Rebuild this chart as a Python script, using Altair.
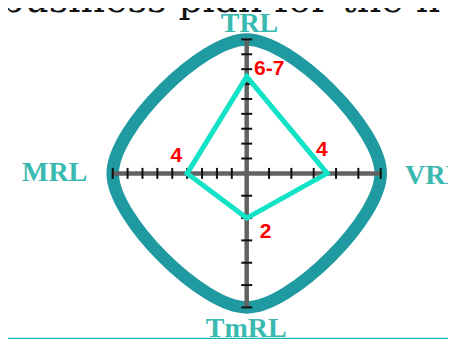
import altair as alt
import numpy as np
import pandas as pd

# ---- data ----
axis_names = ["TRL", "VRL", "TmRL", "MRL"]
max_levels = [9, 6, 6, 9]
levels = [6.5, 3.6, 2, 4]
level_labels = ["6-7", "4", "2", "4"]
header_text = "business plan for the n"

# ---- layout ----
angles = {"TRL": 90, "VRL": 0, "TmRL": 270, "MRL": 180}
L = 134.0
cx, cy = 238.7, 165.4
W, H = 440, 331
xdom = [-cx / L, (W - cx) / L]
ydom = [-(H - cy) / L, cy / L]


def pos(name, r):
    a = np.deg2rad(angles[name])
    return float(r * np.cos(a)), float(r * np.sin(a))


poly_rows, end_rows, tick_rows = [], [], []
for i, (n, mx, lv, lab) in enumerate(zip(axis_names, max_levels, levels, level_labels)):
    x, y = pos(n, lv / mx)
    poly_rows.append(dict(axis=n, x=x, y=y, i=i, label=lab))
    ex, ey = pos(n, 1.0)
    end_rows.append(dict(axis=n, x=ex, y=ey, i=i))
    for k in range(1, mx + 1):
        tx, ty = pos(n, k / mx)
        tick_rows.append(dict(axis=n, x=tx, y=ty))

poly = pd.DataFrame(poly_rows)
ends = pd.DataFrame(end_rows)
ticks = pd.DataFrame(tick_rows)
axes_lines = pd.DataFrame([
    dict(x=pos("MRL", 1)[0], x2=pos("VRL", 1)[0], y=0.0, y2=0.0),
    dict(x=0.0, x2=0.0, y=pos("TmRL", 1)[1], y2=pos("TRL", 1)[1]),
])
header = pd.DataFrame({"t": [header_text]})

xs = alt.Scale(domain=xdom, nice=False, zero=False)
ys = alt.Scale(domain=ydom, nice=False, zero=False)
X = alt.X("x:Q", scale=xs, axis=None)
Y = alt.Y("y:Q", scale=ys, axis=None)

outline = alt.Chart(ends).mark_line(
    interpolate="cardinal-closed", stroke="#1f9aa0", strokeWidth=12.5
).encode(x=X, y=Y, order=alt.Order("i:Q"))

axis_rules = alt.Chart(axes_lines).mark_rule(stroke="#626262", strokeWidth=4.5).encode(
    x=X, y=Y, x2="x2:Q", y2="y2:Q"
)

ticks_v = alt.Chart(ticks).mark_tick(
    orient="vertical", size=11, thickness=2, color="#111111", opacity=1
).encode(x=X, y=Y).transform_filter(
    alt.FieldOneOfPredicate(field="axis", oneOf=["MRL", "VRL"])
)
ticks_h = alt.Chart(ticks).mark_tick(
    orient="horizontal", size=11, thickness=2, color="#111111", opacity=1
).encode(x=X, y=Y).transform_filter(
    alt.FieldOneOfPredicate(field="axis", oneOf=["TRL", "TmRL"])
)

polygon = alt.Chart(poly).mark_line(
    interpolate="linear-closed", stroke="#12e2c6", strokeWidth=5, strokeJoin="miter"
).encode(x=X, y=Y, order=alt.Order("i:Q"))

# value labels
lab_off = {"TRL": (7.3, -2, "left"), "MRL": (-10.8, -11.1, "center"),
           "VRL": (-5.2, -17.4, "center"), "TmRL": (18.8, 20.2, "center")}
value_labels = []
for n in axis_names:
    dx, dy, al = lab_off[n]
    value_labels.append(
        alt.Chart(poly).mark_text(
            font="Liberation Sans", fontWeight="bold", fontSize=21, color="#ff0000",
            align=al, baseline="alphabetic", dx=dx, dy=dy
        ).encode(x=X, y=Y, text="label:N").transform_filter(alt.datum.axis == n)
    )

# axis titles
title_off = {"TRL": (2.8, -7.7, "center"), "TmRL": (-0.5, 29.9, "center"),
             "MRL": (-25.4, 7.3, "right"), "VRL": (24.3, 10.9, "left")}
titles = []
for n in axis_names:
    dx, dy, al = title_off[n]
    titles.append(
        alt.Chart(ends).mark_text(
            font="Liberation Serif", fontWeight="bold", fontSize=28, color="#3ab9b0",
            align=al, baseline="alphabetic", dx=dx, dy=dy
        ).encode(x=X, y=Y, text="axis:N").transform_filter(alt.datum.axis == n)
    )

head = alt.Chart(header).mark_text(
    font="DejaVu Serif", fontSize=38, color="#111111", align="left", baseline="alphabetic"
).encode(x=alt.value(-8), y=alt.value(4), text="t:N")

bottom_line = alt.Chart(header).mark_rule(stroke="#1db5b5", strokeWidth=1.5).encode(
    x=alt.value(0), x2=alt.value(W), y=alt.value(330.5)
)

chart = alt.layer(
    head, outline, axis_rules, ticks_v, ticks_h, polygon, *value_labels, *titles, bottom_line
).properties(
    width=W, height=H, autosize=alt.AutoSizeParams(type="none"), padding=0
).configure_view(strokeWidth=0)

chart.save("out.html", embed_options={"renderer": "svg", "actions": False})
